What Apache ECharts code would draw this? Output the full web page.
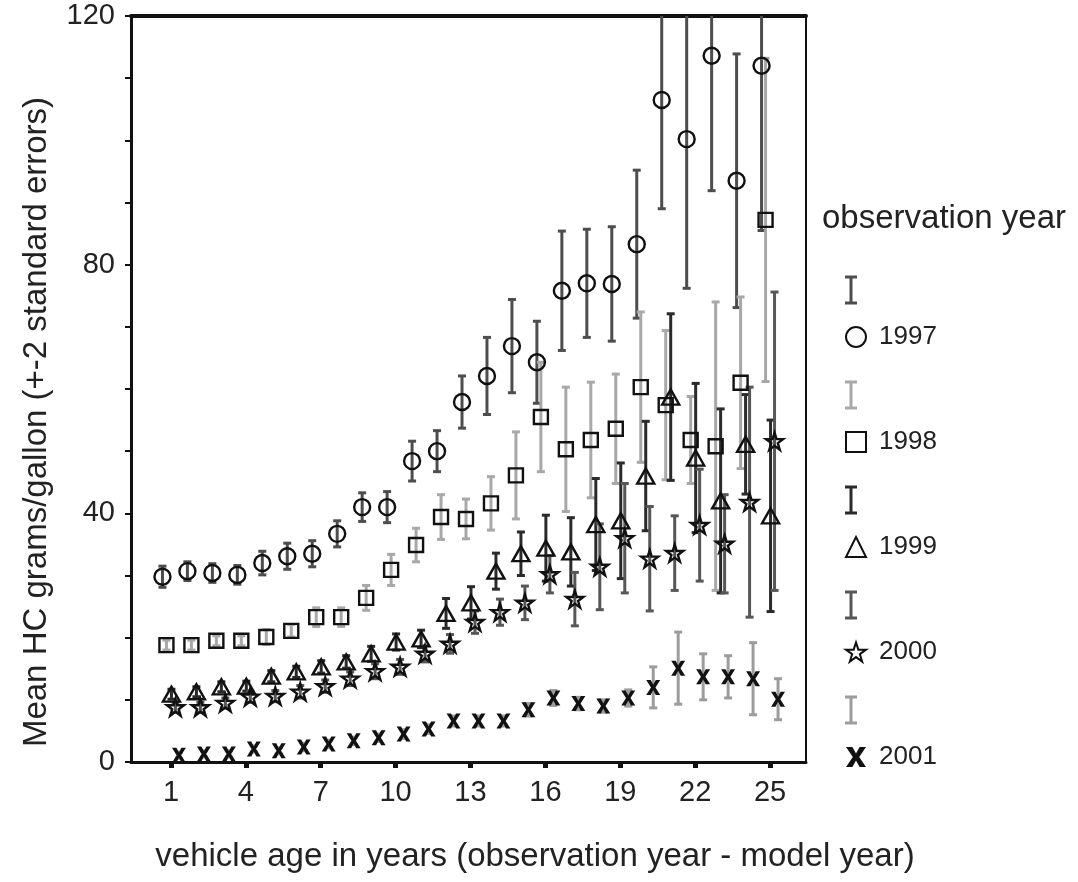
<!DOCTYPE html>
<html>
<head>
<meta charset="utf-8">
<title>Mean HC by vehicle age</title>
<script src="https://cdn.jsdelivr.net/npm/echarts@6.0.0/dist/echarts.min.js"></script>
<style>
  html, body { margin: 0; padding: 0; background: #fff; }
  #chart { width: 1078px; height: 882px; }
</style>
</head>
<body>
<div id="chart"></div>
<script>
// vehicle age (observation year - model year)
const ages = [1, 2, 3, 4, 5, 6, 7, 8, 9, 10, 11, 12, 13, 14, 15, 16, 17, 18, 19, 20, 21, 22, 23, 24, 25];
const xTickLabels = [1, 4, 7, 10, 13, 16, 19, 22, 25];
const yTickLabels = [0, 40, 80, 120];
const years = ['1997', '1998', '1999', '2000', '2001'];

// mean HC grams/gallon
const mean1997 = [29.8, 30.7, 30.4, 30.1, 32.0, 33.1, 33.5, 36.7, 41.0, 41.0, 48.4, 50.0, 57.9, 62.1, 66.9, 64.3, 75.8, 77.0, 76.9, 83.3, 106.5, 100.2, 113.6, 93.5, 112.0];
const mean1998 = [18.8, 18.8, 19.5, 19.5, 20.1, 21.1, 23.3, 23.3, 26.4, 30.9, 34.9, 39.4, 39.1, 41.6, 46.1, 55.5, 50.3, 51.8, 53.6, 60.3, 57.4, 51.8, 50.8, 61.0, 87.2];
const mean1999 = [10.9, 11.3, 12.1, 12.2, 13.8, 14.5, 15.3, 16.1, 17.4, 19.3, 19.8, 23.9, 25.6, 30.7, 33.5, 34.4, 33.8, 38.2, 38.8, 46.0, 58.7, 48.9, 42.0, 51.1, 39.6];
const mean2000 = [8.8, 8.8, 9.5, 10.5, 10.6, 11.3, 12.2, 13.4, 14.6, 15.3, 17.4, 19.0, 22.5, 24.1, 25.6, 30.2, 26.2, 31.4, 36.0, 32.7, 33.6, 38.1, 35.1, 41.8, 51.6];
const mean2001 = [1.1, 1.3, 1.3, 2.1, 1.8, 2.4, 2.9, 3.4, 3.9, 4.5, 5.3, 6.6, 6.6, 6.6, 8.4, 10.3, 9.4, 9.0, 10.3, 12.0, 15.1, 13.7, 13.7, 13.4, 10.1];

// +-2 standard errors (half length of each bar)
const err1997 = [1.7, 1.5, 1.5, 1.5, 1.9, 2.1, 2.1, 2.1, 2.3, 2.5, 3.2, 3.3, 4.2, 6.2, 7.5, 6.6, 9.6, 8.7, 9.2, 11.9, 17.5, 24.0, 21.7, 20.4, 26.5];
const err1998 = [0.8, 0.8, 0.8, 0.8, 1.2, 1.0, 1.5, 1.5, 2.0, 2.5, 2.7, 3.6, 3.2, 4.3, 7.0, 8.8, 10.0, 9.3, 8.8, 12.1, 12.0, 7.0, 23.2, 13.8, 26.0];
const err1999 = [0.8, 0.8, 0.8, 0.8, 0.9, 0.9, 1.0, 1.0, 1.2, 1.3, 1.4, 2.4, 2.6, 2.9, 3.5, 5.3, 5.5, 7.4, 9.3, 8.8, 13.4, 12.0, 14.8, 8.0, 15.4];
const err2000 = [0.8, 0.8, 0.8, 0.9, 0.9, 1.0, 1.0, 1.1, 1.2, 1.2, 1.3, 1.5, 1.8, 2.1, 2.7, 3.0, 4.3, 6.9, 8.8, 8.4, 6.0, 9.0, 7.9, 18.5, 24.0];
const err2001 = [0.5, 0.5, 0.5, 0.5, 0.5, 0.6, 0.6, 0.6, 0.6, 0.7, 0.7, 0.8, 0.8, 0.8, 1.0, 1.2, 1.0, 1.0, 1.3, 3.3, 5.8, 3.7, 3.4, 5.8, 3.3];

const means = [mean1997, mean1998, mean1999, mean2000, mean2001];
const errs = [err1997, err1998, err1999, err2000, err2001];

// styling per observation year
const dodge = [-0.34, -0.18, 0.02, 0.18, 0.32];   // small side shift so the groups don't sit on top of each other
const barColors = ['#4d4d4d', '#a8a8a8', '#2a2a2a', '#575757', '#9c9c9c'];
const FONT = '"Liberation Sans", Arial, sans-serif';
const STAR = 'path://M50,2 L61,36 L97,36 L68,57 L79,92 L50,71 L21,92 L32,57 L3,36 L39,36 Z';
const CROSS = 'path://M0,0 L32,0 L50,33 L68,0 L100,0 L66,50 L100,100 L68,100 L50,67 L32,100 L0,100 L34,50 Z';
const markers = [
    { symbol: 'circle', size: 16 },
    { symbol: 'rect', size: 14 },
    { symbol: 'triangle', size: [17, 15] },
    { symbol: STAR, size: 17 },
    { symbol: CROSS, size: [14, 15] }
];

// error bar with caps, drawn through the axis scales
function renderErrorBar(params, api) {
    const x = api.value(0);
    const top = api.coord([x, api.value(2)]);
    const bot = api.coord([x, api.value(1)]);
    const cap = 4;
    const style = { stroke: api.visual('color'), lineWidth: 3 };
    return {
        type: 'group',
        children: [
            { type: 'line', shape: { x1: top[0], y1: top[1], x2: bot[0], y2: bot[1] }, style: style },
            { type: 'line', shape: { x1: top[0] - cap, y1: top[1], x2: top[0] + cap, y2: top[1] }, style: style },
            { type: 'line', shape: { x1: bot[0] - cap, y1: bot[1], x2: bot[0] + cap, y2: bot[1] }, style: style }
        ]
    };
}

const series = [];
years.forEach((yr, i) => {
    series.push({
        name: yr + ' error',
        type: 'custom',
        renderItem: renderErrorBar,
        clip: true,
        z: 1,
        itemStyle: { color: barColors[i] },
        encode: { x: 0, y: [1, 2] },
        data: ages.map((a, k) => [a + dodge[i], means[i][k] - errs[i][k], means[i][k] + errs[i][k]])
    });
});
years.forEach((yr, i) => {
    const isCross = i === 4;
    series.push({
        name: yr,
        type: 'scatter',
        z: 3,
        symbol: markers[i].symbol,
        symbolSize: markers[i].size,
        itemStyle: isCross
            ? { color: '#111', borderWidth: 0, opacity: 1 }
            : { color: 'rgba(255,255,255,0)', borderColor: '#111', borderWidth: 2.4, opacity: 1 },
        data: ages.map((a, k) => [a + dodge[i], means[i][k]])
    });
});

// legend "I" glyphs for the error bars
const legendGlyphs = [];
years.forEach((yr, i) => {
    const cx = 851, cy = 290 + i * 105, h = 13, w = 6;
    const style = { stroke: barColors[i], lineWidth: 3 };
    legendGlyphs.push({
        type: 'group',
        children: [
            { type: 'line', shape: { x1: cx, y1: cy - h, x2: cx, y2: cy + h }, style: style },
            { type: 'line', shape: { x1: cx - w, y1: cy - h, x2: cx + w, y2: cy - h }, style: style },
            { type: 'line', shape: { x1: cx - w, y1: cy + h, x2: cx + w, y2: cy + h }, style: style }
        ]
    });
});

const chart = echarts.init(document.getElementById('chart'), null, { renderer: 'canvas' });
chart.setOption({
    animation: false,
    backgroundColor: '#fff',
    textStyle: { fontFamily: FONT },
    grid: {
        left: 131, right: 272, top: 16, bottom: 120,
        show: true, borderColor: '#111', borderWidth: 2
    },
    xAxis: [{
        type: 'value',
        min: -0.6,
        max: 26.44,
        axisLine: { show: true, onZero: false, lineStyle: { color: '#111', width: 3 } },
        axisTick: { show: true, customValues: xTickLabels, length: 6, lineStyle: { color: '#111', width: 5 } },
        axisLabel: { customValues: xTickLabels, fontSize: 29, margin: 16, color: '#222', fontFamily: FONT },
        splitLine: { show: false }
    }, {
        type: 'value',
        position: 'top',
        min: -0.6,
        max: 26.44,
        axisLine: { show: true, onZero: false, lineStyle: { color: '#111', width: 4 } },
        axisTick: { show: false },
        axisLabel: { show: false },
        splitLine: { show: false }
    }],
    yAxis: {
        type: 'value',
        min: 0,
        max: 120,
        interval: 10,
        axisLine: { show: true, onZero: false, lineStyle: { color: '#111', width: 3 } },
        axisTick: { show: true, length: 6, lineStyle: { color: '#111', width: 2 } },
        axisLabel: {
            customValues: yTickLabels,
            fontSize: 29, margin: 16, color: '#222', fontFamily: FONT
        },
        splitLine: { show: false }
    },
    legend: {
        data: years,
        orient: 'vertical',
        left: 840,
        top: 319,
        itemWidth: 20,
        itemHeight: 20,
        itemGap: 79,
        selectedMode: false,
        textStyle: { fontSize: 26, color: '#222', fontFamily: FONT, padding: [0, 0, 0, 8], lineHeight: 20 }
    },
    graphic: [
        {
            type: 'text',
            x: 822, y: 219,
            style: { text: 'observation year', font: '33px ' + FONT, fill: '#222', verticalAlign: 'middle' }
        },
        {
            type: 'text',
            x: 535, y: 857,
            style: {
                text: 'vehicle age in years (observation year - model year)',
                font: '33px ' + FONT, fill: '#222', align: 'center', verticalAlign: 'middle'
            }
        },
        {
            type: 'text',
            x: 37, y: 422,
            rotation: Math.PI / 2,
            style: {
                text: 'Mean HC grams/gallon (+-2 standard errors)',
                font: '33px ' + FONT, fill: '#222', align: 'center', verticalAlign: 'middle'
            }
        }
    ].concat(legendGlyphs),
    series: series
});
</script>
</body>
</html>
